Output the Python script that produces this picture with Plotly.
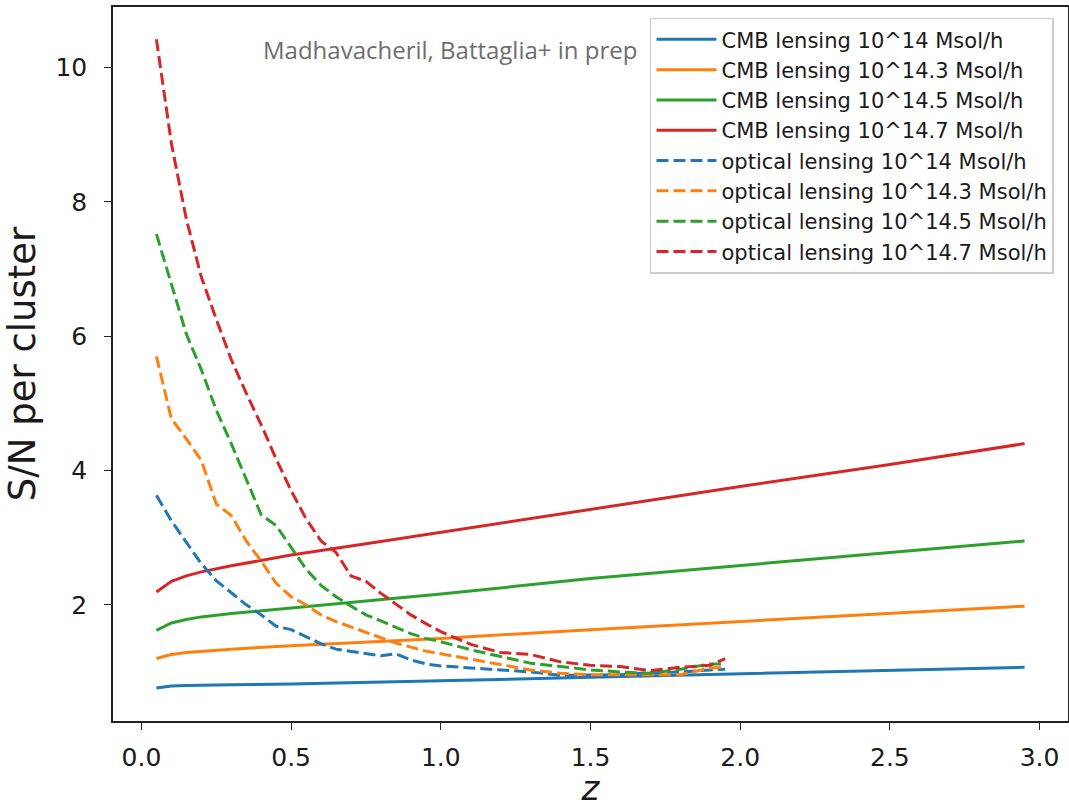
import plotly.graph_objects as go

# CMB lensing (solid) data
z_cmb = [0.05, 0.1, 0.15, 0.2, 0.3, 0.5, 0.75, 1.0, 1.5, 2.0, 2.5, 2.95]
cmb_14 = [0.76, 0.79, 0.80, 0.80, 0.81, 0.82, 0.84, 0.87, 0.92, 0.97, 1.02, 1.07]
cmb_143 = [1.20, 1.26, 1.29, 1.31, 1.34, 1.39, 1.44, 1.50, 1.63, 1.75, 1.87, 1.98]
cmb_145 = [1.62, 1.73, 1.78, 1.82, 1.87, 1.95, 2.06, 2.16, 2.39, 2.59, 2.78, 2.95]
cmb_147 = [2.19, 2.35, 2.43, 2.49, 2.58, 2.74, 2.91, 3.08, 3.43, 3.76, 4.09, 4.40]

# optical lensing (dashed) data
z_opt = [0.05, 0.1, 0.15, 0.2, 0.25, 0.3, 0.35, 0.4, 0.45, 0.5, 0.55, 0.6, 0.65,
         0.7, 0.75, 0.8, 0.85, 0.9, 0.95, 1.0, 1.1, 1.2, 1.3, 1.4, 1.5, 1.6,
         1.7, 1.8, 1.9, 1.95]
opt_14 = [3.63, 3.25, 2.93, 2.61, 2.36, 2.18, 2.00, 1.85, 1.68, 1.63, 1.52, 1.42, 1.34,
          1.31, 1.27, 1.24, 1.27, 1.18, 1.12, 1.09, 1.06, 1.03, 1.00, 0.95, 0.95, 0.96,
          0.99, 1.00, 1.03, 1.04]
opt_143 = [5.70, 4.77, 4.47, 4.15, 3.50, 3.33, 2.95, 2.65, 2.32, 2.12, 2.00, 1.85, 1.75,
           1.67, 1.59, 1.51, 1.43, 1.37, 1.31, 1.27, 1.19, 1.11, 1.03, 0.98, 0.96, 0.96,
           0.96, 0.96, 1.06, 1.07]
opt_145 = [7.52, 6.77, 6.03, 5.50, 4.90, 4.40, 3.86, 3.34, 3.18, 2.86, 2.53, 2.29, 2.12,
           1.98, 1.85, 1.76, 1.67, 1.57, 1.50, 1.45, 1.33, 1.23, 1.13, 1.08, 1.03, 1.00,
           0.98, 1.04, 1.12, 1.12]
opt_147 = [10.42, 8.87, 7.74, 6.88, 6.25, 5.65, 5.15, 4.68, 4.17, 3.70, 3.28, 2.95, 2.78,
           2.43, 2.35, 2.17, 2.01, 1.85, 1.72, 1.60, 1.41, 1.29, 1.26, 1.15, 1.10, 1.08,
           1.02, 1.07, 1.10, 1.20]

masses = ["10^14", "10^14.3", "10^14.5", "10^14.7"]
colors = ["#1f77b4", "#ff7f0e", "#2ca02c", "#d62728"]
cmb_series = [cmb_14, cmb_143, cmb_145, cmb_147]
opt_series = [opt_14, opt_143, opt_145, opt_147]

fig = go.Figure()
for m, c, y in zip(masses, colors, cmb_series):
    fig.add_trace(go.Scatter(x=z_cmb, y=y, mode="lines", name=f"CMB lensing {m} Msol/h",
                             line=dict(color=c, width=3)))
for m, c, y in zip(masses, colors, opt_series):
    fig.add_trace(go.Scatter(x=z_opt, y=y, mode="lines", name=f"optical lensing {m} Msol/h",
                             line=dict(color=c, width=3, dash="12px,5px")))

fig.add_annotation(text="Madhavacheril, Battaglia+ in prep", xref="paper", yref="paper",
                   x=0.353, y=0.94, xanchor="center", yanchor="middle", showarrow=False,
                   font=dict(family="Open Sans", size=24, color="#6e6e6e"))

axis_common = dict(showline=True, linecolor="#222222", linewidth=1.6, mirror=True,
                   ticks="outside", ticklen=7, tickwidth=1.4, tickcolor="#222222",
                   showgrid=False, zeroline=False, automargin=False,
                   tickfont=dict(family="DejaVu Sans", size=25, color="#1a1a1a"))

fig.update_layout(
    width=1069, height=808,
    margin=dict(l=113, r=1, t=7, b=87),
    plot_bgcolor="white", paper_bgcolor="white",
    xaxis=dict(range=[-0.095, 3.095], tickvals=[0, 0.5, 1, 1.5, 2, 2.5, 3],
               ticktext=["0.0", "0.5", "1.0", "1.5", "2.0", "2.5", "3.0"],
               ticklabelstandoff=6,
               title=dict(text="<i>z</i>", font=dict(family="DejaVu Sans", size=34, color="#1a1a1a"),
                          standoff=21),
               **axis_common),
    yaxis=dict(range=[0.27, 10.9], tickvals=[2, 4, 6, 8, 10],
               ticklabelstandoff=12,
               title=dict(text="S/N per cluster", font=dict(family="DejaVu Sans", size=37, color="#1a1a1a"),
                          standoff=8),
               **axis_common),
    legend=dict(x=0.5623, y=0.985, xanchor="left", yanchor="top",
                bgcolor="rgba(255,255,255,0.85)", bordercolor="#cccccc", borderwidth=1.5,
                font=dict(family="DejaVu Sans", size=21, color="#1a1a1a"),
                itemwidth=60),
)

fig.write_html("out.html",
               post_script="document.body.style.margin='0';document.body.style.overflow='hidden';")
